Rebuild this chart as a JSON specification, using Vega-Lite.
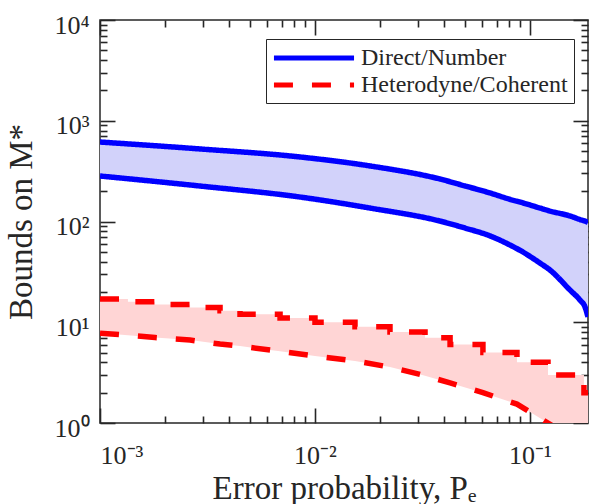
{
  "$schema": "https://vega.github.io/schema/vega-lite/v6.json",
  "width": 488,
  "height": 403,
  "autosize": "none",
  "padding": {"left": 100, "top": 20, "right": 3, "bottom": 81},
  "background": "white",
  "config": {
    "view": {"stroke": "#262626", "strokeWidth": 1.5},
    "font": "Liberation Serif",
    "axis": {"domain": false, "grid": false, "zindex": 1, "tickColor": "#262626", "tickWidth": 1.6, "labelColor": "#262626", "titleColor": "#262626", "labelFont": "Liberation Serif", "titleFont": "Liberation Serif", "titleFontWeight": "normal", "labelFontSize": 26, "titleFontSize": 33},
    "legend": {"labelFont": "Liberation Serif", "labelFontSize": 24, "labelColor": "#262626", "strokeColor": "#262626", "fillColor": "white", "padding": 5.5, "labelOffset": 33.5, "rowPadding": 1, "symbolType": "M-3.64,0H3.64", "symbolSize": 484, "symbolOffset": 29, "symbolStrokeWidth": 5, "labelLimit": 400}
  },
  "datasets": {
    "blue": [
      {"x": 0.001, "hi": 615, "lo": 283},
      {"x": 0.002917, "hi": 525, "lo": 225},
      {"x": 0.008511, "hi": 437, "lo": 175},
      {"x": 0.01803, "hi": 356, "lo": 136},
      {"x": 0.03814, "hi": 264, "lo": 101},
      {"x": 0.05, "hi": 225, "lo": 86},
      {"x": 0.06516, "hi": 192, "lo": 72},
      {"x": 0.08, "hi": 167, "lo": 59},
      {"x": 0.09272, "hi": 153, "lo": 49.8},
      {"x": 0.1113, "hi": 136, "lo": 38.7},
      {"x": 0.1239, "hi": 127, "lo": 33},
      {"x": 0.1535, "hi": 113.5, "lo": 20.9},
      {"x": 0.1709, "hi": 104.6, "lo": 16.6},
      {"x": 0.1803, "hi": 101, "lo": 14.2},
      {"x": 0.1862, "hi": 98, "lo": 11.3}
    ],
    "red": [
      {"i": 0, "x": 0.001, "hi": 17, "lo": 7.8},
      {"i": 1, "x": 0.001349, "hi": 17, "lo": 7.45},
      {"i": 2, "x": 0.001349, "hi": 16, "lo": 7.45},
      {"i": 3, "x": 0.001803, "hi": 16, "lo": 7.05},
      {"i": 4, "x": 0.001803, "hi": 15, "lo": 7.05},
      {"i": 5, "x": 0.002624, "hi": 15, "lo": 6.66},
      {"i": 6, "x": 0.002624, "hi": 14, "lo": 6.66},
      {"i": 7, "x": 0.003617, "hi": 14, "lo": 6.07},
      {"i": 8, "x": 0.003617, "hi": 13, "lo": 6.07},
      {"i": 9, "x": 0.00448, "hi": 13, "lo": 5.8},
      {"i": 10, "x": 0.00448, "hi": 12, "lo": 5.8},
      {"i": 11, "x": 0.006879, "hi": 12, "lo": 5.15},
      {"i": 12, "x": 0.006879, "hi": 11, "lo": 5.15},
      {"i": 13, "x": 0.01, "hi": 11, "lo": 4.62},
      {"i": 14, "x": 0.01, "hi": 10, "lo": 4.62},
      {"i": 15, "x": 0.01535, "hi": 10, "lo": 4.13},
      {"i": 16, "x": 0.01535, "hi": 9, "lo": 4.13},
      {"i": 17, "x": 0.02233, "hi": 9, "lo": 3.59},
      {"i": 18, "x": 0.02233, "hi": 8, "lo": 3.59},
      {"i": 19, "x": 0.0325, "hi": 8, "lo": 2.95},
      {"i": 20, "x": 0.0325, "hi": 7, "lo": 2.95},
      {"i": 21, "x": 0.0425, "hi": 7, "lo": 2.5},
      {"i": 22, "x": 0.0425, "hi": 6, "lo": 2.5},
      {"i": 23, "x": 0.06043, "hi": 6, "lo": 2.0},
      {"i": 24, "x": 0.06043, "hi": 5, "lo": 2.0},
      {"i": 25, "x": 0.087, "hi": 5, "lo": 1.54},
      {"i": 26, "x": 0.087, "hi": 4, "lo": 1.54},
      {"i": 27, "x": 0.1213, "hi": 4, "lo": 1.0},
      {"i": 28, "x": 0.1213, "hi": 3, "lo": 1.0},
      {"i": 29, "x": 0.1783, "hi": 3, "lo": 0.6},
      {"i": 30, "x": 0.1783, "hi": 2, "lo": 0.6},
      {"i": 31, "x": 0.1862, "hi": 2, "lo": 0.55}
    ]
  },
  "resolve": {"axis": {"x": "independent", "y": "independent"}},
  "layer": [
    {
      "data": {"name": "blue"},
      "mark": {"type": "area", "color": "#d2d2fa", "clip": true, "interpolate": "monotone"},
      "encoding": {
        "x": {"field": "x", "type": "quantitative", "scale": {"type": "log", "domain": [0.001, 0.1862], "nice": false},
          "axis": {"orient": "bottom", "values": [0.001, 0.01, 0.1], "offset": -15, "tickSize": 15, "labelPadding": 19, "labelExpr": "datum.value < 0.005 ? '10⁻³' : datum.value < 0.05 ? '10⁻²' : '10⁻¹'", "title": "Error probability, Pₑ", "titlePadding": 4}},
        "y": {"field": "hi", "type": "quantitative", "scale": {"type": "log", "domain": [1, 10000], "nice": false},
          "axis": {"orient": "left", "values": [1, 10, 100, 1000, 10000], "offset": -15, "tickSize": 15, "labelPadding": 11, "labelOffset": 5, "labelExpr": "datum.value < 5 ? '10⁰' : datum.value < 50 ? '10¹' : datum.value < 500 ? '10²' : datum.value < 5000 ? '10³' : '10⁴'", "title": "Bounds on M*", "titlePadding": 15}},
        "y2": {"field": "lo"}
      }
    },
    {
      "data": {"name": "red"},
      "mark": {"type": "area", "color": "#ffd5d5", "clip": true},
      "encoding": {
        "x": {"field": "x", "type": "quantitative",
          "axis": {"orient": "bottom", "values": [0.002,0.003,0.004,0.005,0.006,0.007,0.008,0.009,0.02,0.03,0.04,0.05,0.06,0.07,0.08,0.09], "offset": -7, "tickSize": 7, "labels": false, "title": null}},
        "y": {"field": "hi", "type": "quantitative",
          "axis": {"orient": "left", "values": [2,3,4,5,6,7,8,9,20,30,40,50,60,70,80,90,200,300,400,500,600,700,800,900,2000,3000,4000,5000,6000,7000,8000,9000], "offset": -7, "tickSize": 7, "labels": false, "title": null}},
        "y2": {"field": "lo"}
      }
    },
    {
      "data": {"name": "blue"},
      "mark": {"type": "line", "strokeWidth": 5.5, "clip": true, "interpolate": "monotone"},
      "encoding": {
        "x": {"field": "x", "type": "quantitative",
          "axis": {"orient": "top", "values": [0.001, 0.01, 0.1], "offset": -15, "tickSize": 15, "labels": false, "title": null}},
        "y": {"field": "hi", "type": "quantitative",
          "axis": {"orient": "right", "values": [1, 10, 100, 1000, 10000], "offset": -15, "tickSize": 15, "labels": false, "title": null}},
        "color": {"datum": "Direct/Number", "type": "nominal", "scale": {"domain": ["Direct/Number", "Heterodyne/Coherent"], "range": ["#0000ff", "#ff0000"]},
          "legend": {"title": null, "orient": "none", "legendX": 166, "legendY": 19}},
        "strokeDash": {"datum": "Direct/Number", "type": "nominal", "scale": {"domain": ["Direct/Number", "Heterodyne/Coherent"], "range": [[1, 0], [19, 19]]},
          "legend": {"title": null, "orient": "none", "legendX": 166, "legendY": 19}}
      }
    },
    {
      "data": {"name": "blue"},
      "mark": {"type": "line", "strokeWidth": 5.5, "clip": true, "interpolate": "monotone"},
      "encoding": {
        "x": {"field": "x", "type": "quantitative",
          "axis": {"orient": "top", "values": [0.002,0.003,0.004,0.005,0.006,0.007,0.008,0.009,0.02,0.03,0.04,0.05,0.06,0.07,0.08,0.09], "offset": -7, "tickSize": 7, "labels": false, "title": null}},
        "y": {"field": "lo", "type": "quantitative",
          "axis": {"orient": "right", "values": [2,3,4,5,6,7,8,9,20,30,40,50,60,70,80,90,200,300,400,500,600,700,800,900,2000,3000,4000,5000,6000,7000,8000,9000], "offset": -7, "tickSize": 7, "labels": false, "title": null}},
        "color": {"datum": "Direct/Number", "type": "nominal"},
        "strokeDash": {"datum": "Direct/Number", "type": "nominal"}
      }
    },
    {
      "data": {"name": "red"},
      "mark": {"type": "line", "strokeWidth": 5.5, "strokeCap": "butt", "clip": true},
      "encoding": {
        "x": {"field": "x", "type": "quantitative", "axis": null},
        "y": {"field": "hi", "type": "quantitative", "axis": null},
        "order": {"field": "i"},
        "color": {"datum": "Heterodyne/Coherent", "type": "nominal"},
        "strokeDash": {"datum": "Heterodyne/Coherent", "type": "nominal"}
      }
    },
    {
      "data": {"name": "red"},
      "mark": {"type": "line", "strokeWidth": 5.5, "strokeCap": "butt", "clip": true},
      "encoding": {
        "x": {"field": "x", "type": "quantitative", "axis": null},
        "y": {"field": "lo", "type": "quantitative", "axis": null},
        "order": {"field": "i"},
        "color": {"datum": "Heterodyne/Coherent", "type": "nominal"},
        "strokeDash": {"datum": "Heterodyne/Coherent", "type": "nominal"}
      }
    }
  ]
}
